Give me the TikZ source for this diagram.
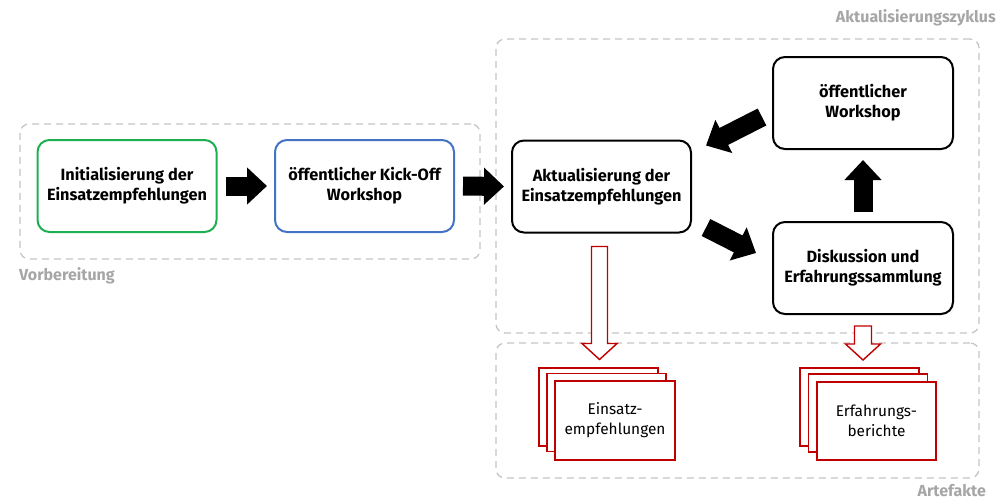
\documentclass[tikz,border=0pt]{standalone}
\usepackage{fontspec}
\setmainfont{Fira Sans}
\usetikzlibrary{arrows.meta,calc}
\definecolor{boxgreen}{HTML}{1DB050}
\definecolor{boxblue}{HTML}{4472C4}
\definecolor{artred}{HTML}{C00000}
\definecolor{dashgray}{HTML}{C4C4C4}
\definecolor{labelgray}{HTML}{A6A6A6}
\begin{document}
\begin{tikzpicture}[x=1pt,y=-1pt,
  proc/.style={draw, line width=2pt, rounded corners=12pt, align=center,
    font=\fontsize{16.3}{20}\selectfont\bfseries, inner sep=0pt,
    minimum width=179pt, minimum height=92pt},
  group/.style={draw=dashgray, line width=1.3pt, dash pattern=on 7pt off 5pt,
    rounded corners=9pt, inner sep=0pt},
  grouplabel/.style={text=labelgray, font=\fontsize{16}{18}\selectfont\bfseries, inner sep=0pt},
  bigarrow/.style={line width=19pt, -{Triangle[length=20pt,width=36pt]}},
  hollow/.style={draw=artred, fill=white, line width=1.4pt, line join=miter},
  doc/.style={draw=artred, fill=white, line width=1.8pt, minimum width=119pt,
    minimum height=78pt, inner sep=0pt, align=center,
    font=\fontsize{15.4}{20}\selectfont}
]
\useasboundingbox (0,0) rectangle (1008,501);

% group frames
\node[group, minimum width=460pt, minimum height=135pt] (prep) at (250,191.5) {};
\node[group, minimum width=483pt, minimum height=294pt] (cycle) at (737.5,186) {};
\node[group, minimum width=483pt, minimum height=135pt] (arts) at (737.5,410.5) {};

\node[grouplabel, anchor=west] (lprep) at (19,276) {Vorbereitung};
\node[grouplabel, anchor=east] (lcycle) at (996,18) {Aktualisierungszyklus};
\node[grouplabel, anchor=east] (larts) at (986,491) {Artefakte};

% process boxes
\node[proc, draw=boxgreen] (init) at (127,186) {Initialisierung der\\Einsatzempfehlungen};
\node[proc, draw=boxblue] (kick) at (364.5,186) {öffentlicher Kick-Off\\Workshop};
\node[proc] (akt) at (601.5,186.5) {Aktualisierung der\\Einsatzempfehlungen};
\node[proc, minimum width=180pt] (ws) at (863,103) {öffentlicher\\Workshop};
\node[proc, minimum width=180pt] (disk) at (863,268) {Diskussion und\\Erfahrungssammlung};

% black arrows
\draw[bigarrow, shorten <=8pt, shorten >=7pt] (init.east) -- (kick.west);
\draw[bigarrow, shorten <=8pt, shorten >=7pt] (kick.east) -- (akt.west);
\draw[bigarrow] ($(akt.south east)+(14,-6)$) -- ($(disk.west)+(-16,-15)$);
\draw[bigarrow, shorten <=9pt, shorten >=10pt] (disk.north) -- (ws.south);
\draw[bigarrow] ($(ws.west)+(-10,14)$) -- ($(akt.north east)+(14,6)$);

% hollow red arrows
\draw[hollow] ($(akt.south)+(-10,13)$) -- ($(akt.south)+(6,13)$) -- ($(akt.south)+(6,110)$)
  -- ($(akt.south)+(15.5,110)$) -- ($(akt.south)+(-2,126)$) -- ($(akt.south)+(-19.5,110)$)
  -- ($(akt.south)+(-10,110)$) -- cycle;
\draw[hollow] ($(disk.south)+(-8.5,11)$) -- ($(disk.south)+(8.5,11)$) -- ($(disk.south)+(8.5,29)$)
  -- ($(disk.south)+(17.5,29)$) -- ($(disk.south)+(0,45)$) -- ($(disk.south)+(-17.5,29)$)
  -- ($(disk.south)+(-8.5,29)$) -- cycle;

% document stacks
\node[doc] (e3) at (598.5,407) {};
\node[doc] (e2) at (606.5,412.5) {};
\node[doc, minimum width=120pt, minimum height=79pt] (e1) at (615,420.5) {Einsatz-\\empfehlungen};
\node[doc] (b3) at (859.5,407) {};
\node[doc] (b2) at (868,413) {};
\node[doc] (b1) at (876.5,421) {Erfahrungs-\\berichte};
\end{tikzpicture}
\end{document}
